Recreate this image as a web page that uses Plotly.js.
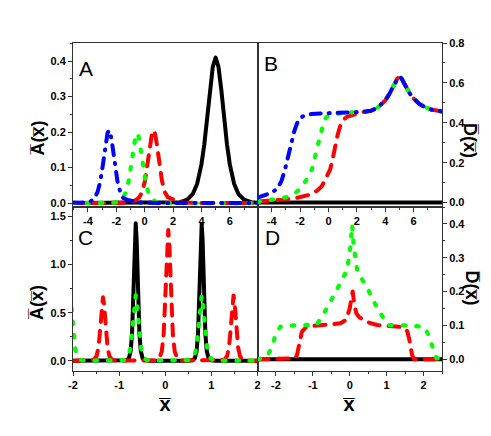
<!DOCTYPE html>
<html>
<head>
<meta charset="utf-8">
<script src="https://cdn.plot.ly/plotly-3.0.1.min.js"></script>
<style>
  html, body { margin: 0; padding: 0; background: #fff; }
  #chart { width: 491px; height: 436px; }
  .js-line { stroke-linecap: round !important; stroke-linejoin: round !important; }
</style>
</head>
<body>
<div id="chart"></div>
<script>
// ---------- Panel A : A(x) ----------
const A_black_x = [-5.05, -2, 0, 1.5, 2.0, 2.5, 3.0, 3.4, 3.7, 4.0, 4.2, 4.4, 4.6, 4.8, 5.0, 5.2, 5.4, 5.6, 5.8, 6.0, 6.3, 6.6, 7.0, 7.5, 7.95];
const A_black_y = [0, 0, 0, 0, 0.0007, 0.0027, 0.0096, 0.0263, 0.0547, 0.109, 0.165, 0.239, 0.319, 0.384, 0.41, 0.384, 0.319, 0.239, 0.165, 0.109, 0.0547, 0.0263, 0.0096, 0.0027, 0.0012];
const A_red_x = [-5.05, -3, -1.38, -0.9, -0.6, -0.38, -0.18, 0.02, 0.22, 0.32, 0.42, 0.52, 0.62, 0.72, 0.82, 0.92, 1.02, 1.22, 1.42, 1.62, 1.92, 2.3, 2.62, 4, 7.95];
const A_red_y = [0, 0, 0.001, 0.004, 0.009, 0.016, 0.031, 0.0625, 0.1146, 0.1459, 0.1755, 0.197, 0.205, 0.197, 0.1755, 0.1459, 0.1146, 0.0625, 0.0309, 0.017, 0.012, 0.006, 0.002, 0, 0];
const A_green_x = [-5.05, -3, -2.14, -1.84, -1.54, -1.34, -1.14, -0.94, -0.84, -0.74, -0.64, -0.54, -0.44, -0.34, -0.24, -0.14, 0.06, 0.26, 0.46, 0.76, 1.2, 3, 7.95];
const A_green_y = [0, 0, 0.001, 0.0043, 0.0139, 0.0297, 0.0601, 0.1101, 0.1402, 0.1686, 0.189, 0.197, 0.189, 0.1686, 0.1402, 0.1101, 0.0601, 0.0297, 0.0139, 0.0043, 0.001, 0, 0];
const A_blue_x = [-5.05, -4.52, -3.82, -3.52, -3.32, -3.12, -2.92, -2.82, -2.72, -2.62, -2.52, -2.42, -2.32, -2.22, -2.12, -1.92, -1.72, -1.52, -1.22, -0.8, -0.3, 1, 7.95];
const A_blue_y = [0.002, 0.001, 0.0045, 0.0145, 0.0309, 0.0625, 0.1146, 0.1459, 0.1755, 0.197, 0.205, 0.197, 0.1755, 0.1459, 0.1146, 0.0625, 0.0309, 0.0145, 0.009, 0.006, 0.002, 0, 0];

// ---------- Panel B : D(x) ----------
const B_black_x = [-5, 8];
const B_black_y = [0, 0];
const B_red_x = [-5, -4, -3.18, -2.23, -1.8, -1.29, -0.8, -0.47, -0.2, 0.12, 0.3, 0.47, 0.65, 0.82, 1.05, 1.3, 1.8, 2.24, 2.5, 3.0, 3.5, 4.0, 4.3, 4.6, 4.85, 5.0, 5.15, 5.4, 5.7, 6.0, 6.4, 6.8, 7.3, 8.0];
const B_red_y = [0.005, 0.01, 0.015, 0.024, 0.03, 0.04, 0.06, 0.082, 0.12, 0.166, 0.22, 0.283, 0.34, 0.383, 0.415, 0.43, 0.443, 0.45, 0.455, 0.46, 0.478, 0.512, 0.545, 0.588, 0.622, 0.632, 0.622, 0.59, 0.55, 0.522, 0.495, 0.478, 0.465, 0.457];
const B_green_x = [-5, -4, -3.3, -2.8, -2.3, -1.88, -1.5, -1.17, -0.95, -0.82, -0.6, -0.47, -0.3, -0.1, 0.12, 0.6, 1.5, 2.5, 3.0, 3.5, 4.0, 4.3, 4.6, 4.85, 5.0, 5.15, 5.4, 5.7, 6.0, 6.4, 6.8, 7.3, 8.0];
const B_green_y = [0.003, 0.012, 0.022, 0.03, 0.05, 0.08, 0.12, 0.166, 0.23, 0.274, 0.345, 0.383, 0.415, 0.43, 0.438, 0.446, 0.452, 0.455, 0.46, 0.478, 0.512, 0.545, 0.588, 0.622, 0.632, 0.622, 0.59, 0.55, 0.522, 0.495, 0.478, 0.465, 0.457];
const B_blue_x = [-5, -4.5, -4.0, -3.6, -3.3, -3.05, -2.8, -2.6, -2.4, -2.2, -2.0, -1.7, -1.2, -0.5, 0.5, 1.5, 2.5, 3.0, 3.5, 4.0, 4.3, 4.6, 4.85, 5.0, 5.15, 5.4, 5.7, 6.0, 6.4, 6.8, 7.3, 8.0];
const B_blue_y = [0.025, 0.035, 0.05, 0.07, 0.11, 0.17, 0.245, 0.305, 0.36, 0.40, 0.423, 0.437, 0.444, 0.447, 0.449, 0.452, 0.455, 0.46, 0.478, 0.512, 0.545, 0.588, 0.622, 0.632, 0.622, 0.59, 0.55, 0.522, 0.495, 0.478, 0.465, 0.457];

// ---------- Panel C : A(x) ----------
const C_black_x = [-2, -0.94, -0.84, -0.79, -0.75, -0.72, -0.70, -0.68, -0.66, -0.64, -0.62, -0.60, -0.58, -0.56, -0.53, -0.49, -0.44, -0.34, 0.49, 0.59, 0.64, 0.68, 0.71, 0.73, 0.75, 0.77, 0.79, 0.81, 0.83, 0.85, 0.87, 0.90, 0.94, 0.99, 1.09, 2];
const C_black_y = [0, 0, 0.004, 0.0243, 0.101, 0.280, 0.522, 0.878, 1.257, 1.43, 1.257, 0.878, 0.522, 0.280, 0.101, 0.0243, 0.004, 0, 0, 0.004, 0.0243, 0.101, 0.280, 0.522, 0.878, 1.257, 1.42, 1.257, 0.878, 0.522, 0.280, 0.101, 0.0243, 0.004, 0, 0];
const C_red_x = [-2, -1.63, -1.55, -1.49, -1.45, -1.425, -1.40, -1.375, -1.35, -1.325, -1.30, -1.275, -1.25, -1.21, -1.15, -1.07,
  -0.215, -0.135, -0.075, -0.035, -0.01, 0.015, 0.04, 0.065, 0.09, 0.115, 0.14, 0.165, 0.205, 0.265, 0.345,
  1.2, 1.28, 1.34, 1.38, 1.405, 1.43, 1.455, 1.48, 1.505, 1.53, 1.555, 1.58, 1.62, 1.68, 1.76, 2];
const C_red_y = [0, 0.0009, 0.0087, 0.0467, 0.132, 0.249, 0.414, 0.583, 0.66, 0.583, 0.414, 0.249, 0.132, 0.0467, 0.0087, 0.0009,
  0.0018, 0.018, 0.0962, 0.272, 0.513, 0.853, 1.201, 1.36, 1.201, 0.853, 0.513, 0.272, 0.0962, 0.018, 0.0018,
  0.0009, 0.009, 0.048, 0.136, 0.256, 0.426, 0.600, 0.68, 0.600, 0.426, 0.256, 0.136, 0.048, 0.009, 0.0009, 0];
const C_green_x = [-2.11, -2.07, -2.03, -1.99, -1.95, -1.91, -1.83, -1.75, -0.96, -0.88, -0.80, -0.76, -0.72, -0.68, -0.64, -0.60, -0.56, -0.52, -0.48, -0.40, -0.32, 0.47, 0.55, 0.63, 0.67, 0.71, 0.75, 0.79, 0.83, 0.87, 0.91, 0.95, 1.03, 1.11, 2.0];
const C_green_y = [0.534, 0.68, 0.534, 0.286, 0.123, 0.048, 0.0067, 0.0009, 0.0009, 0.0067, 0.048, 0.123, 0.286, 0.534, 0.68, 0.534, 0.286, 0.123, 0.048, 0.0067, 0.0009, 0.0009, 0.0067, 0.048, 0.123, 0.286, 0.534, 0.68, 0.534, 0.286, 0.123, 0.048, 0.0067, 0.0009, 0];

// ---------- Panel D : D(x) ----------
const D_black_x = [-2.5, 2.5];
const D_black_y = [0, 0];
const D_red_x = [-2.5, -1.6, -1.48, -1.43, -1.39, -1.35, -1.3, -1.2, -1.05, -0.8, -0.5, -0.25, -0.1, 0.0, 0.05, 0.08, 0.12, 0.18, 0.25, 0.43, 0.74, 1.1, 1.42, 1.5, 1.56, 1.61, 1.65, 1.69, 1.74, 2.5];
const D_red_y = [0, 0, 0.002, 0.012, 0.035, 0.06, 0.08, 0.093, 0.098, 0.1, 0.102, 0.106, 0.116, 0.15, 0.185, 0.2, 0.165, 0.135, 0.125, 0.111, 0.101, 0.098, 0.095, 0.091, 0.082, 0.06, 0.035, 0.012, 0, 0];
const D_green_x = [-2.5, -2.35, -2.22, -2.11, -2.0, -1.88, -1.5, -0.9, -0.61, -0.36, -0.185, -0.07, 0.02, 0.065, 0.11, 0.2, 0.315, 0.49, 0.74, 1.03, 1.5, 2.01, 2.12, 2.24, 2.35, 2.5];
const D_green_y = [0, 0.003, 0.012, 0.037, 0.075, 0.096, 0.1, 0.101, 0.152, 0.207, 0.24, 0.264, 0.333, 0.397, 0.333, 0.264, 0.24, 0.207, 0.152, 0.101, 0.1, 0.096, 0.075, 0.037, 0.003, 0];

// ---------- Tick values and labels ----------
const topXTickVals = [-4, -2, 0, 2, 4, 6];
const topXTickText = ['-4', '-2', '0', '2', '4', '6'];
const botXTickVals = [-2, -1, 0, 1, 2];
const botXTickText = ['-2', '-1', '0', '1', '2'];
const aYTickVals = [0, 0.1, 0.2, 0.3, 0.4];
const aYTickText = ['0.0', '0.1', '0.2', '0.3', '0.4'];
const bYTickVals = [0, 0.2, 0.4, 0.6, 0.8];
const bYTickText = ['0.0', '0.2', '0.4', '0.6', '0.8'];
const cYTickVals = [0, 0.5, 1.0, 1.5];
const cYTickText = ['0.0', '0.5', '1.0', '1.5'];
const dYTickVals = [0, 0.1, 0.2, 0.3, 0.4];
const dYTickText = ['0.0', '0.1', '0.2', '0.3', '0.4'];

const panelLetters = ['A', 'B', 'C', 'D'];
const leftTitle = 'A\u0305(x\u0305)';
const rightTitle = 'D\u0305(x\u0305)';
const xTitle = 'x\u0305';

// ---------- styles ----------
const BLACK = {color: '#000000', width: 4, dash: 'solid'};
const RED = {color: '#ff0000', width: 4, dash: '11px,9px'};
const GREEN = {color: '#00ff00', width: 4.2, dash: '2.5px,11px'};
const BLUE = {color: '#0000ff', width: 4, dash: '10px,8px,1px,8px'};

function tr(x, y, line, xa, ya) {
  return {x: x, y: y, type: 'scatter', mode: 'lines', line: Object.assign({shape: 'linear'}, line),
          xaxis: xa, yaxis: ya, hoverinfo: 'skip', showlegend: false, cliponaxis: true};
}

const data = [
  tr(A_black_x, A_black_y, BLACK, 'x', 'y'),
  tr(A_red_x, A_red_y, RED, 'x', 'y'),
  tr(A_green_x, A_green_y, GREEN, 'x', 'y'),
  tr(A_blue_x, A_blue_y, BLUE, 'x', 'y'),
  tr(B_black_x, B_black_y, BLACK, 'x2', 'y2'),
  tr(B_red_x, B_red_y, RED, 'x2', 'y2'),
  tr(B_green_x, B_green_y, GREEN, 'x2', 'y2'),
  tr(B_blue_x, B_blue_y, BLUE, 'x2', 'y2'),
  tr(C_black_x, C_black_y, BLACK, 'x3', 'y3'),
  tr(C_red_x, C_red_y, RED, 'x3', 'y3'),
  tr(C_green_x, C_green_y, GREEN, 'x3', 'y3'),
  tr(D_black_x, D_black_y, BLACK, 'x4', 'y4'),
  tr(D_red_x, D_red_y, RED, 'x4', 'y4'),
  tr(D_green_x, D_green_y, GREEN, 'x4', 'y4')
];

const tickFont = {family: 'Liberation Sans, Arial, sans-serif', size: 11, weight: 'bold', color: '#000'};
function ax(extra) {
  return Object.assign({
    showgrid: false, zeroline: false, showline: true, mirror: true,
    linecolor: '#333', linewidth: 1, ticks: 'outside', ticklen: 4, tickwidth: 1, tickcolor: '#333',
    tickfont: tickFont, tickmode: 'array', fixedrange: true
  }, extra);
}
const minorX = (d) => ({dtick: d, tick0: 0, ticks: 'outside', ticklen: 2, tickwidth: 1, tickcolor: '#333'});

const titleFont = {family: 'Liberation Sans, Arial, sans-serif', size: 18, weight: 'bold', color: '#000'};
const xTitleFont = {family: 'Liberation Sans, Arial, sans-serif', size: 20, weight: 'bold', color: '#000'};
const letterFont = {family: 'Liberation Sans, Arial, sans-serif', size: 21, color: '#000'};
function ann(text, x, y, font, angle) {
  return {text: text, x: x, y: y, xref: 'paper', yref: 'paper', showarrow: false,
          xanchor: 'center', yanchor: 'middle', font: font, textangle: angle || 0};
}

const layout = {
  width: 491, height: 436,
  margin: {l: 73, r: 49, t: 43, b: 65, pad: 0},
  paper_bgcolor: '#ffffff', plot_bgcolor: '#ffffff',
  showlegend: false,
  xaxis: ax({domain: [0, 0.5], anchor: 'y', range: [-5.05, 7.95], tickvals: topXTickVals, ticktext: topXTickText, minor: minorX(1)}),
  yaxis: ax({domain: [0.5, 1], anchor: 'x', range: [-0.011, 0.451], tickvals: aYTickVals, ticktext: aYTickText, minor: minorX(0.05)}),
  xaxis2: ax({domain: [0.5, 1], anchor: 'y2', range: [-5, 8], tickvals: topXTickVals, ticktext: topXTickText, minor: minorX(1)}),
  yaxis2: ax({domain: [0.5, 1], anchor: 'x2', side: 'right', range: [-0.022, 0.8], tickvals: bYTickVals, ticktext: bYTickText, minor: minorX(0.1)}),
  xaxis3: ax({domain: [0, 0.5], anchor: 'y3', range: [-2, 2], tickvals: botXTickVals, ticktext: botXTickText, minor: minorX(0.5)}),
  yaxis3: ax({domain: [0, 0.5], anchor: 'x3', range: [-0.107, 1.6], tickvals: cYTickVals, ticktext: cYTickText, minor: minorX(0.25)}),
  xaxis4: ax({domain: [0.5, 1], anchor: 'y4', range: [-2.5, 2.5], tickvals: botXTickVals, ticktext: botXTickText, minor: minorX(0.5)}),
  yaxis4: ax({domain: [0, 0.5], anchor: 'x4', side: 'right', range: [-0.035, 0.45], tickvals: dYTickVals, ticktext: dYTickText, minor: minorX(0.05)}),
  annotations: [
    ann(panelLetters[0], 0.034, 0.921, letterFont),
    ann(panelLetters[1], 0.537, 0.936, letterFont),
    ann(panelLetters[2], 0.035, 0.4085, letterFont),
    ann(panelLetters[3], 0.541, 0.4085, letterFont),
    ann(leftTitle, -0.0935, 0.710, titleFont, -90),
    ann(leftTitle, -0.0976, 0.210, titleFont, -90),
    ann(rightTitle, 1.0759, 0.704, titleFont, 90),
    ann(rightTitle, 1.080, 0.253, titleFont, 90),
    ann(xTitle, 0.2493, -0.100, xTitleFont),
    ann(xTitle, 0.748, -0.100, xTitleFont)
  ]
};

Plotly.newPlot('chart', data, layout, {staticPlot: true, displayModeBar: false});
</script>
</body>
</html>
